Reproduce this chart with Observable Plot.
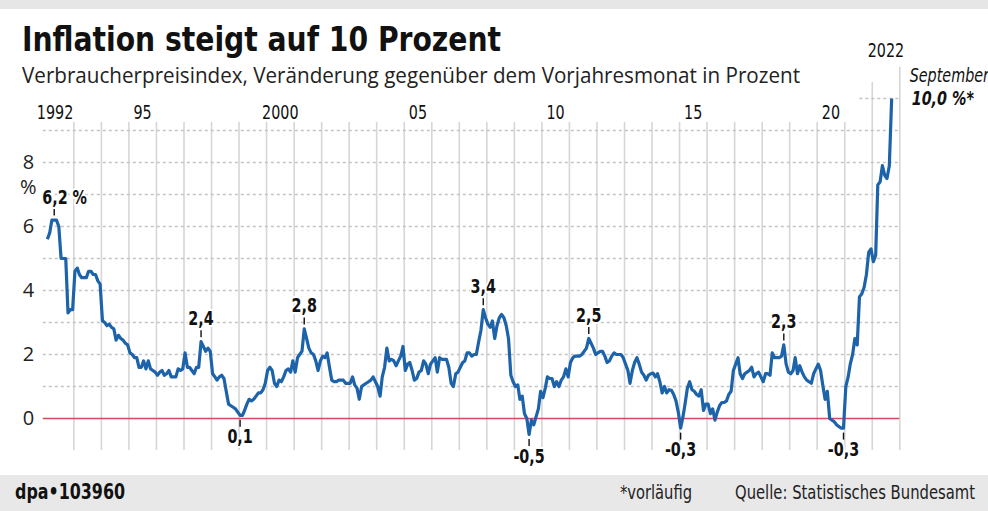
<!DOCTYPE html>
<html>
<head>
<meta charset="utf-8">
<script src="https://cdn.jsdelivr.net/npm/d3@7"></script>
<script src="https://cdn.jsdelivr.net/npm/@observablehq/plot@0.6"></script>
<style>
  html, body { margin: 0; padding: 0; background: #fff; }
  #wrap { position: relative; width: 988px; height: 511px; overflow: hidden; background: #fff; }
  .band { position: absolute; left: 0; width: 988px; background: #e6e6e6; }
  .t { position: absolute; white-space: nowrap; line-height: 1; transform-origin: 0 50%; color: #111; }
  .narrow { font-family: "Liberation Sans Narrow", "DejaVu Sans Condensed", "Arial Narrow", sans-serif; }
  .open { font-family: "Open Sans", "Noto Sans", sans-serif; }
  #chart { position: absolute; left: 0; top: 0; }
</style>
</head>
<body>
<div id="wrap">
  <div class="band" style="top:0;height:9px;"></div>
  <div class="band" style="top:475px;height:36px;background:#e8e8e8;"></div>
  <div id="chart"></div>
  <div class="t narrow" data-w="479" style="left:22px;top:22px;font-size:34px;font-weight:bold;">Inflation steigt auf 10 Prozent</div>
  <div class="t open" data-w="778" style="left:22px;top:63px;font-size:22px;color:#222;">Verbraucherpreisindex, Veränderung gegenüber dem Vorjahresmonat in Prozent</div>
  <div class="t narrow" data-w="110" style="left:15px;top:482px;font-size:21px;font-weight:bold;">dpa•103960</div>
  <div class="t narrow" data-w="72" style="left:620px;top:483px;font-size:19px;color:#222;">*vorläufig</div>
  <div class="t narrow" data-w="240" style="left:735px;top:483px;font-size:19px;color:#222;">Quelle: Statistisches Bundesamt</div>
</div>
<script>
// ---- Data: monthly change of the consumer price index vs. same month of previous year (%) ----
const v1992 = [5.6, 5.8, 6.2, 6.2, 6.2, 6.0, 5.0, 5.0, 5.0, 3.3, 3.4, 3.4];
const v1993 = [4.6, 4.7, 4.5, 4.4, 4.4, 4.4, 4.6, 4.6, 4.5, 4.5, 4.3, 4.2];
const v1994 = [3.05, 3.0, 2.9, 2.95, 2.85, 2.8, 2.45, 2.6, 2.5, 2.45, 2.35, 2.3];
const v1995 = [2.05, 2.0, 1.9, 1.9, 1.6, 1.6, 1.8, 1.55, 1.8, 1.55, 1.5, 1.45];
const v1996 = [1.35, 1.45, 1.5, 1.35, 1.4, 1.5, 1.3, 1.3, 1.3, 1.55, 1.5, 1.55];
const v1997 = [2.05, 1.6, 1.6, 1.5, 1.4, 1.6, 1.6, 2.4, 2.25, 2.1, 2.2, 2.1];
const v1998 = [1.4, 1.3, 1.2, 1.3, 1.35, 1.25, 0.85, 0.45, 0.4, 0.35, 0.3, 0.2];
const v1999 = [0.1, 0.1, 0.25, 0.45, 0.6, 0.55, 0.6, 0.7, 0.8, 0.8, 0.9, 1.1];
const v2000 = [1.5, 1.6, 1.5, 1.1, 1.0, 1.2, 1.15, 1.3, 1.5, 1.55, 1.45, 1.8];
const v2001 = [1.45, 1.9, 2.0, 2.1, 2.8, 2.5, 2.2, 2.05, 2.0, 1.8, 1.5, 1.8];
const v2002 = [1.95, 1.9, 2.05, 1.6, 1.2, 1.15, 1.15, 1.2, 1.2, 1.2, 1.1, 1.1];
const v2003 = [1.1, 1.3, 1.05, 0.95, 0.6, 1.0, 1.05, 1.1, 1.15, 1.2, 1.3, 1.15];
const v2004 = [1.0, 0.7, 1.3, 1.6, 2.2, 1.8, 1.85, 1.8, 1.65, 1.8, 1.95, 2.25];
const v2005 = [1.5, 1.7, 1.75, 1.5, 1.2, 1.25, 1.45, 1.5, 1.8, 1.7, 1.4, 1.7];
const v2006 = [1.8, 1.9, 1.45, 1.9, 1.85, 1.85, 1.85, 1.6, 1.1, 1.0, 1.4, 1.45];
const v2007 = [1.6, 1.75, 1.8, 2.05, 2.05, 1.95, 2.0, 2.0, 2.4, 2.75, 3.4, 3.15];
const v2008 = [2.95, 2.85, 3.05, 2.5, 2.9, 3.15, 3.25, 3.15, 2.9, 2.5, 1.35, 1.15];
const v2009 = [1.0, 1.05, 0.6, 0.7, 0.15, 0.0, -0.5, -0.05, -0.2, 0.05, 0.3, 0.85];
const v2010 = [0.65, 0.95, 1.3, 1.25, 1.25, 1.0, 1.15, 1.0, 1.2, 1.3, 1.55, 1.3];
const v2011 = [1.75, 1.9, 1.95, 1.95, 1.95, 2.0, 2.1, 2.2, 2.5, 2.35, 2.2, 2.0];
const v2012 = [2.05, 2.1, 2.1, 1.95, 1.75, 1.8, 1.95, 2.05, 2.0, 2.0, 2.0, 1.9];
const v2013 = [1.7, 1.5, 1.1, 1.5, 1.75, 1.9, 1.7, 1.45, 1.35, 1.2, 1.35, 1.4];
const v2014 = [1.42, 1.3, 1.4, 1.15, 0.8, 1.0, 0.8, 0.9, 0.88, 0.75, 0.55, 0.2];
const v2015 = [-0.3, 0.05, 0.45, 0.95, 1.15, 0.9, 0.85, 0.75, 0.7, 0.9, 0.25, 0.45];
const v2016 = [0.45, 0.15, 0.3, -0.05, 0.2, 0.4, 0.5, 0.5, 0.55, 0.75, 0.85, 1.5];
const v2017 = [1.7, 1.9, 1.4, 1.25, 1.4, 1.45, 1.5, 1.6, 1.3, 1.4, 1.45, 1.3];
const v2018 = [1.15, 1.4, 1.4, 1.35, 2.05, 1.9, 1.9, 1.9, 1.95, 2.3, 1.7, 1.45];
const v2019 = [1.4, 1.5, 1.9, 1.4, 1.65, 1.45, 1.3, 1.2, 1.15, 1.1, 1.4, 1.55];
const v2020 = [1.7, 1.5, 1.05, 0.6, 0.85, 0.0, -0.05, -0.1, -0.2, -0.25, -0.3, -0.3];
const v2021 = [1.0, 1.3, 1.7, 2.0, 2.5, 2.3, 3.8, 3.9, 4.1, 4.5, 5.2, 5.3];
const v2022 = [4.9, 5.1, 7.3, 7.4, 7.9, 7.6, 7.5, 7.9, 10.0];

const firstYear = 1992;
const yearlyValues = [v1992, v1993, v1994, v1995, v1996, v1997, v1998, v1999, v2000, v2001,
  v2002, v2003, v2004, v2005, v2006, v2007, v2008, v2009, v2010, v2011, v2012, v2013,
  v2014, v2015, v2016, v2017, v2018, v2019, v2020, v2021, v2022];

// x-axis labels (at the middle of the year)
const yearLabelYears = [1992, 1995, 2000, 2005, 2010, 2015, 2020];
const yearLabelTexts = ["1992", "95", "2000", "05", "10", "15", "20"];
const lastYearLabel = "2022";

// y-axis ticks
const yTicks = [0, 2, 4, 6, 8];
const yUnit = "%";

// annotated extremes
const annMonths = ["1992-04", "1997-08", "2001-05", "1999-01", "2007-11", "2009-07", "2011-09", "2015-01", "2018-10", "2020-12"];
const annValues = [6.2, 2.4, 2.8, 0.1, 3.4, -0.5, 2.5, -0.3, 2.3, -0.3];
const annTexts = ["6,2 %", "2,4", "2,8", "0,1", "3,4", "-0,5", "2,5", "-0,3", "2,3", "-0,3"];
const annSides = ["above", "above", "above", "below", "above", "below", "above", "below", "above", "below"];

const endLabelMonth = "September";
const endLabelValue = "10,0 %*";

// ---- build tables ----
const series = [];
yearlyValues.forEach((arr, yi) => {
  arr.forEach((v, m) => series.push({ date: new Date(Date.UTC(firstYear + yi, m, 15)), value: v }));
});
const lastPoint = series[series.length - 1];

const parseMonth = s => { const [y, m] = s.split("-").map(Number); return new Date(Date.UTC(y, m - 1, 15)); };
const ann = annMonths.map((m, i) => ({ date: parseMonth(m), value: annValues[i], text: annTexts[i], side: annSides[i] }));
const annAbove = ann.filter(d => d.side === "above");
const annBelow = ann.filter(d => d.side === "below");

const lastYear = firstYear + yearlyValues.length - 1;
const gridYears = d3.range(firstYear + 1, lastYear).map(y => new Date(Date.UTC(y, 0, 1)));
const gridTopYears = [lastYear, lastYear + 1].map(y => new Date(Date.UTC(y, 0, 1)));
const yearLabels = yearLabelYears.map((y, i) => ({ date: new Date(Date.UTC(y, 6, 1)), text: yearLabelTexts[i] }));

const BLUE = "#1d63a9";
const GRID = "#d6d6d6";
const RED = "#d84862";
const NARROW = "'DejaVu Sans Condensed', sans-serif";
const unitPx = 32; // pixels per percentage point (for tick offsets)
const narrowText = { fontFamily: NARROW, fill: "#111" };
const halo = { stroke: "white", strokeWidth: 4, paintOrder: "stroke" };

const plot = Plot.plot({
  width: 988,
  height: 511,
  marginLeft: 45.8,
  marginRight: 88.7,
  marginTop: 98,
  marginBottom: 61,
  style: { fontFamily: "'Open Sans', 'Noto Sans', sans-serif", background: "transparent", overflow: "visible" },
  x: { type: "utc", domain: [new Date(Date.UTC(firstYear, 0, 1)), new Date(Date.UTC(lastYear + 1, 0, 1))], axis: null },
  y: { domain: [-1, 10], axis: null },
  marks: [
    Plot.ruleX(gridYears, { x: d => d, y1: -1, y2: 9.25, stroke: GRID, strokeWidth: 1.6 }),
    Plot.ruleX(gridTopYears, { x: d => d, y1: -1, y2: (d, i) => (i === 0 ? 10.5 : 10.98), stroke: GRID, strokeWidth: 1.6 }),
    Plot.ruleY(d3.range(1, 10), { stroke: "#c4c4c4", strokeWidth: 1.3, strokeDasharray: "3,3", insetLeft: -3 }),
    Plot.ruleY([10], { x1: new Date(Date.UTC(lastYear - 1, 6, 20)), x2: gridTopYears[1], stroke: "#c4c4c4", strokeWidth: 1.3, strokeDasharray: "3,3" }),
    Plot.ruleY([0], { stroke: RED, strokeWidth: 1.6, insetLeft: -3 }),
    Plot.lineY(series, { x: "date", y: "value", stroke: BLUE, strokeWidth: 3.2, strokeLinejoin: "round", strokeLinecap: "butt" }),
    // annotation ticks
    Plot.ruleX(annAbove, { x: "date", y1: d => d.value + 4 / unitPx, y2: d => d.value + 11 / unitPx, stroke: "#111", strokeWidth: 1.4 }),
    Plot.ruleX(annBelow, { x: "date", y1: d => d.value - 5 / unitPx, y2: d => d.value - 12 / unitPx, stroke: "#111", strokeWidth: 1.4 }),
    // annotation labels
    Plot.text(annAbove.filter(d => d.text.includes("%")), { x: "date", y: "value", text: "text", dy: -22, dx: -12, textAnchor: "start", fontSize: 19, fontWeight: "bold", ...narrowText, ...halo }),
    Plot.text(annAbove.filter(d => !d.text.includes("%")), { x: "date", y: "value", text: "text", dy: -23, fontSize: 19, fontWeight: "bold", ...narrowText, ...halo }),
    Plot.text(annBelow, { x: "date", y: "value", text: "text", dy: 22, fontSize: 19, fontWeight: "bold", ...narrowText, ...halo }),
    // y axis
    Plot.axisY({ ticks: yTicks, tickSize: 0, tickPadding: 12, fontSize: 20, fill: "#222", anchor: "left", label: null }),
    Plot.text([yUnit], { x: () => new Date(Date.UTC(firstYear, 0, 1)), y: () => 8, text: d => d, dy: 25, dx: -18, fontSize: 20, fill: "#222" }),
    // year labels
    Plot.text(yearLabels.slice(0, 1), { x: "date", text: "text", frameAnchor: "top", lineAnchor: "middle", dy: 14, dx: -5, fontSize: 19, ...narrowText }),
    Plot.text(yearLabels.slice(1), { x: "date", text: "text", frameAnchor: "top", lineAnchor: "middle", dy: 14, fontSize: 19, ...narrowText }),
    Plot.text([lastYearLabel], { x: () => new Date(Date.UTC(lastYear, 6, 1)), text: d => d, frameAnchor: "top", lineAnchor: "middle", dy: -48, fontSize: 19, ...narrowText }),
    // end label
    Plot.text([endLabelMonth], { x: () => lastPoint.date, y: () => lastPoint.value, text: d => d, dx: 18, dy: -23, textAnchor: "start", fontSize: 19, fontStyle: "italic", ...narrowText }),
    Plot.text([endLabelValue], { x: () => lastPoint.date, y: () => lastPoint.value, text: d => d, dx: 20, dy: 0, textAnchor: "start", fontSize: 19, fontStyle: "italic", fontWeight: "bold", ...narrowText })
  ]
});
document.getElementById("chart").appendChild(plot);

// condense the narrow-font SVG texts horizontally around their anchor
const SQUEEZE = 0.84;
plot.querySelectorAll('g[font-family*="Condensed"] text').forEach(t => {
  const tr = t.getAttribute("transform");
  if (tr) {
    t.setAttribute("transform", tr + ` scale(${SQUEEZE},1)`);
  } else {
    const x = +(t.getAttribute("x") || 0), y = +(t.getAttribute("y") || 0);
    t.removeAttribute("x"); t.removeAttribute("y");
    t.setAttribute("transform", `translate(${x},${y}) scale(${SQUEEZE},1)`);
  }
});

// fit HTML texts to the measured widths of the reference
document.querySelectorAll("[data-w]").forEach(el => {
  const target = +el.dataset.w;
  const w = el.getBoundingClientRect().width;
  if (w > 0) el.style.transform = `scaleX(${target / w})`;
});
</script>
</body>
</html>
